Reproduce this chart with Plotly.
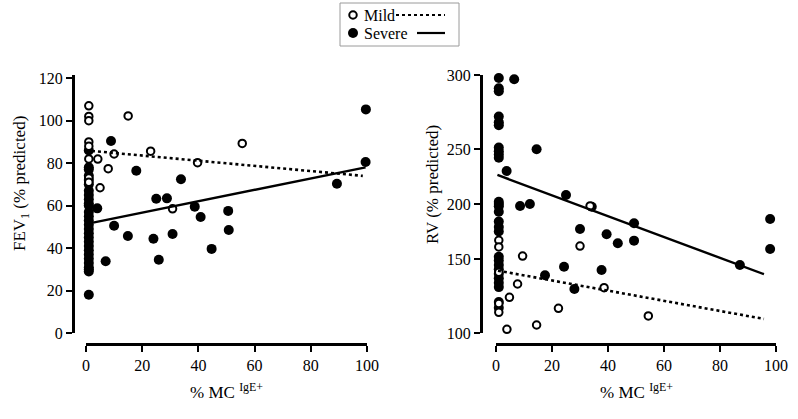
import numpy as np
import plotly.graph_objects as go

# ---------------- data ----------------
# Left panel: FEV1 (% predicted) vs % MC IgE+
fev_mild_x = [1, 1, 1, 1, 1, 1, 1, 1, 4.2, 7.9, 10, 5, 15, 23, 39.7, 55.6, 30.8]
fev_mild_y = [107, 102, 100, 90, 88, 82, 73, 71, 81.9, 77.4, 84.3, 68.4, 102.2, 85.6, 80.2, 89.3, 58.5]

fev_severe_x = [1] * 28 + [8.9, 4, 10, 7, 17.9, 14.9, 25, 28.8, 33.8, 24, 25.9, 30.8, 38.7, 40.8, 44.7,
                           50.6, 50.8, 99.6, 99.5, 89.3]
fev_severe_y = [86, 78, 77, 74, 72, 70, 67, 65, 63, 61, 60, 57, 55, 53, 51, 49, 47, 45, 43, 41, 39, 37, 35,
                33, 31, 30, 29, 18,
                90.4, 58.7, 50.5, 33.8, 76.4, 45.7, 63.2, 63.4, 72.4, 44.4, 34.5, 46.6, 59.5, 54.6, 39.6,
                57.5, 48.5, 105.3, 80.5, 70.3]

fev_mild_fit_x = [0, 98.5]
fev_mild_fit_y = [86, 74]
fev_severe_fit_x = [2.5, 99.5]
fev_severe_fit_y = [52, 78]

# Right panel: RV (% predicted) vs % MC IgE+
rv_mild_x = [1, 1, 1, 1, 1, 9.5, 30, 7.7, 4.8, 3.9, 14.5, 22.3, 38.6, 33.6, 54.4]
rv_mild_y = [167, 161, 141, 120, 114, 152.7, 161.8, 133.1, 124.1, 102.5, 105.4, 116.7, 130.6, 198.2, 111.5]

rv_severe_x = [1] * 29 + [6.5, 14.5, 3.8, 8.6, 12.1, 25, 34.2, 30, 39.5, 43.5, 49.3, 49.3, 17.5, 24.3, 28,
                          37.7, 97.9, 97.9, 87.1]
rv_severe_y = [303, 301, 298, 291, 289, 272, 268, 266, 251, 248, 245, 242, 202, 200, 198, 193, 184, 179,
               175, 152, 149, 146, 143, 140, 137, 134, 131, 121, 117,
               297.1, 249.8, 230, 198.2, 200, 208.2, 197.5, 177.3, 172.5, 164.3, 182.5, 166.7, 139, 144.8,
               129.7, 142.6, 186.4, 159.1, 145.9]

rv_mild_fit_x = [0.7, 95.7]
rv_mild_fit_y = [142.1, 109.5]
rv_severe_fit_x = [0.5, 95.7]
rv_severe_fit_y = [226.4, 139.7]

x_ticks = [0, 20, 40, 60, 80, 100]
fev_ticks = [0, 20, 40, 60, 80, 100, 120]
rv_ticks = [100, 150, 200, 250, 300]

# The RV axis of the original is not evenly spaced: tick spacing (px) between labels
RV_KNOTS = [100, 150, 200, 250, 300, 350]
RV_KNOT_POS = [0, 74, 129, 184, 258, 332]


def rv_scale(v):
    return list(np.interp(v, RV_KNOTS, RV_KNOT_POS))


# ---------------- layout helpers ----------------
W, H = 798, 419


def fx(p):
    return p / W


def fy(p):
    return 1 - p / H


FONT = "Liberation Serif, Times New Roman, serif"
BLACK = "#000000"

fig = go.Figure()


def add_panel(xa, ya, mx, my, sx, sy, mfx, mfy, sfx, sfy):
    fig.add_trace(go.Scatter(x=sx, y=sy, mode="markers", xaxis=xa, yaxis=ya, cliponaxis=False,
                             marker=dict(size=10, color=BLACK, line=dict(width=0)), showlegend=False,
                             hoverinfo="skip"))
    fig.add_trace(go.Scatter(x=mx, y=my, mode="markers", xaxis=xa, yaxis=ya, cliponaxis=False,
                             marker=dict(size=7.5, color="white", line=dict(width=2, color=BLACK)),
                             showlegend=False, hoverinfo="skip"))
    fig.add_trace(go.Scatter(x=mfx, y=mfy, mode="lines", xaxis=xa, yaxis=ya, cliponaxis=False,
                             line=dict(color=BLACK, width=2.6, dash="dot"), showlegend=False,
                             hoverinfo="skip"))
    fig.add_trace(go.Scatter(x=sfx, y=sfy, mode="lines", xaxis=xa, yaxis=ya, cliponaxis=False,
                             line=dict(color=BLACK, width=2.4), showlegend=False, hoverinfo="skip"))


add_panel("x", "y", fev_mild_x, fev_mild_y, fev_severe_x, fev_severe_y,
          fev_mild_fit_x, fev_mild_fit_y, fev_severe_fit_x, fev_severe_fit_y)
add_panel("x2", "y2", rv_mild_x, rv_scale(rv_mild_y), rv_severe_x, rv_scale(rv_severe_y),
          rv_mild_fit_x, rv_scale(rv_mild_fit_y), rv_severe_fit_x, rv_scale(rv_severe_fit_y))

# legend glyphs on a full-page pixel overlay
fig.add_trace(go.Scatter(x=[353], y=[15], mode="markers", xaxis="x3", yaxis="y3", cliponaxis=False,
                         marker=dict(size=7.5, color="white", line=dict(width=2, color=BLACK)),
                         showlegend=False, hoverinfo="skip"))
fig.add_trace(go.Scatter(x=[353], y=[33], mode="markers", xaxis="x3", yaxis="y3", cliponaxis=False,
                         marker=dict(size=10, color=BLACK), showlegend=False, hoverinfo="skip"))
fig.add_trace(go.Scatter(x=[396, 445], y=[15, 15], mode="lines", xaxis="x3", yaxis="y3",
                         line=dict(color=BLACK, width=2.2, dash="dot"), showlegend=False,
                         hoverinfo="skip"))
fig.add_trace(go.Scatter(x=[417, 445], y=[33, 33], mode="lines", xaxis="x3", yaxis="y3",
                         line=dict(color=BLACK, width=2.2), showlegend=False, hoverinfo="skip"))

axis_common = dict(showgrid=False, zeroline=False, showline=True, linecolor=BLACK, linewidth=2.5,
                   ticks="outside", ticklen=6, tickwidth=2, tickcolor=BLACK, automargin=False,
                   tickfont=dict(family=FONT, size=16, color=BLACK), fixedrange=True, anchor="free")

fig.update_layout(
    template="none",
    width=W, height=H, autosize=False,
    font=dict(family=FONT, size=16, color=BLACK),
    margin=dict(l=0, r=0, t=0, b=0, pad=0, autoexpand=False),
    paper_bgcolor="white", plot_bgcolor="rgba(0,0,0,0)",
    showlegend=False,
    xaxis=dict(domain=[fx(86), fx(367)], range=[0, 100], position=fy(344), tickvals=x_ticks,
               **axis_common),
    yaxis=dict(domain=[fy(333), fy(75)], range=[0, 121.5], position=fx(73), tickvals=fev_ticks,
               **axis_common),
    xaxis2=dict(domain=[fx(496), fx(776)], range=[0, 100], position=fy(344), tickvals=x_ticks,
                **axis_common),
    yaxis2=dict(domain=[fy(333), fy(75)], range=[0, 258], position=fx(481),
                tickvals=rv_scale(rv_ticks), ticktext=[str(t) for t in rv_ticks], **axis_common),
    xaxis3=dict(domain=[0, 1], range=[0, W], visible=False, fixedrange=True, automargin=False),
    yaxis3=dict(domain=[0, 1], range=[H, 0], visible=False, fixedrange=True, automargin=False),
)

fig.add_shape(type="rect", xref="x3", yref="y3", x0=340, x1=459, y0=3, y1=46,
              line=dict(color="#9a9a9a", width=1), fillcolor="rgba(0,0,0,0)", layer="below")

ann = dict(xref="x3", yref="y3", showarrow=False, font=dict(family=FONT, size=16, color=BLACK))
fig.add_annotation(x=362, y=15, text="Mild", xanchor="left", yanchor="middle", **ann)
fig.add_annotation(x=362, y=33, text="Severe", xanchor="left", yanchor="middle", **ann)
fig.add_annotation(x=21, y=184, text="FEV<sub>1</sub> (% predicted)", textangle=-90,
                   xanchor="center", yanchor="middle", font=dict(family=FONT, size=17, color=BLACK),
                   xref="x3", yref="y3", showarrow=False)
fig.add_annotation(x=432, y=185, text="RV (% predicted)", textangle=-90,
                   xanchor="center", yanchor="middle", font=dict(family=FONT, size=17, color=BLACK),
                   xref="x3", yref="y3", showarrow=False)
fig.add_annotation(x=226, y=391, text="% MC <sup>IgE+</sup>", xanchor="center", yanchor="middle",
                   font=dict(family=FONT, size=17, color=BLACK), xref="x3", yref="y3",
                   showarrow=False)
fig.add_annotation(x=636, y=391, text="% MC <sup>IgE+</sup>", xanchor="center", yanchor="middle",
                   font=dict(family=FONT, size=17, color=BLACK), xref="x3", yref="y3",
                   showarrow=False)

fig.write_html("out.html", config={"displayModeBar": False, "staticPlot": True},
               post_script="document.body.style.margin='0px';")
